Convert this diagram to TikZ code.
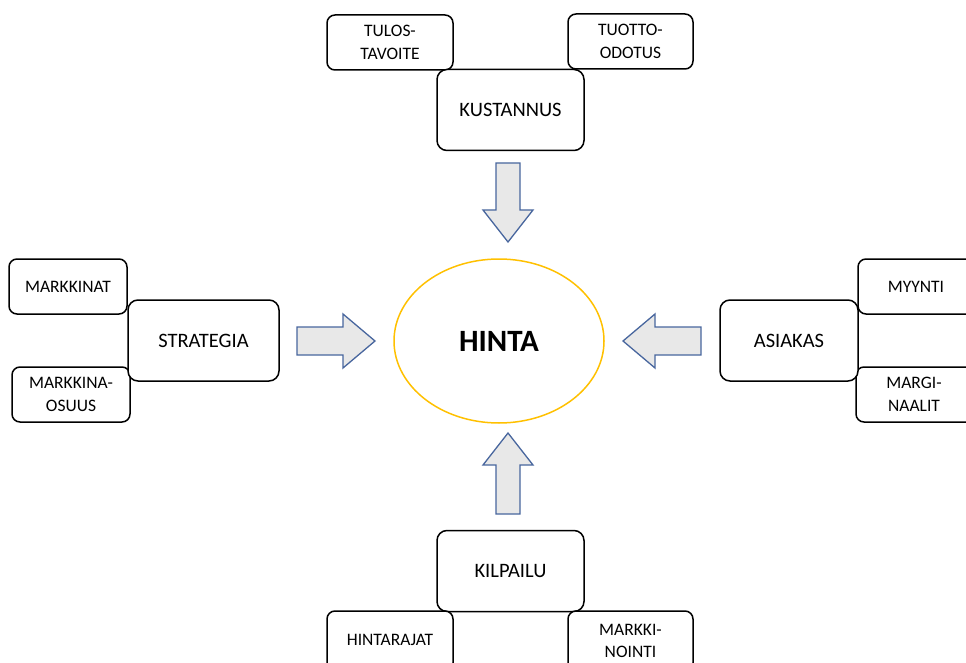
\documentclass[tikz,border=0pt]{standalone}
\usepackage{fontspec}
\setmainfont{Carlito}
\usetikzlibrary{shapes.geometric}
\definecolor{arrowfill}{RGB}{232,232,232}
\definecolor{arrowline}{RGB}{72,102,158}
\definecolor{ringgold}{RGB}{255,192,0}
\begin{document}
\begin{tikzpicture}[x=1pt,y=-1pt,
  mainbox/.style={draw, fill=white, rounded corners=10pt, line width=1.5pt,
    minimum width=147pt, minimum height=81pt, inner sep=0pt, align=center,
    font=\fontsize{20.5}{24}\selectfont},
  sidebox/.style={draw, fill=white, rounded corners=8pt, line width=1.5pt,
    minimum width=126pt, minimum height=55pt, inner sep=0pt, align=center,
    font=\fontsize{17.5}{22.5}\selectfont},
  sidetext/.style={align=center, inner sep=0pt, font=\fontsize{17.5}{22.5}\selectfont},
  blockarrow/.style={draw=arrowline, fill=arrowfill, line width=1.3pt, line join=miter}]
\useasboundingbox (0,0) rectangle (966,663);
\clip (0,0) rectangle (966,663);

% centre
\node[draw=ringgold, line width=1.5pt, ellipse, minimum width=210pt, minimum height=164pt,
  inner sep=0pt, font=\fontsize{31}{36}\selectfont\bfseries] (hinta) at (499,341) {HINTA};

% top group
\node[sidebox] (tulos) at (390,42.5) {TULOS-\\TAVOITE};
\node[sidebox, minimum width=125pt] (tuotto) at (630.5,41.5) {TUOTTO-\\ODOTUS};
\node[mainbox] (kust) at (510.5,110) {KUSTANNUS};

% left group
\node[sidebox, minimum width=118pt] (markkinat) at (68,286.5) {MARKKINAT};
\node[sidebox, minimum width=118pt] (osuus) at (71,394.5) {MARKKINA-\\OSUUS};
\node[mainbox, minimum width=151pt] (strat) at (203.5,340.5) {STRATEGIA};

% right group (boxes run past the right edge)
\node[sidebox] (myynti) at (921,286.5) {};
\node[sidetext] (myyntit) at (916,286.5) {MYYNTI};
\node[sidebox] (marg) at (919,394.5) {};
\node[sidetext] (margt) at (914,394.5) {MARGI-\\NAALIT};
\node[mainbox, minimum width=138pt] (asiakas) at (789,340.5) {ASIAKAS};

% bottom group (boxes run past the lower edge)
\node[mainbox] (kilp) at (510.5,571) {KILPAILU};
\node[sidebox, minimum height=60pt] (hraja) at (390,641) {};
\node[sidetext] (hrajat) at (390,640) {HINTARAJAT};
\node[sidebox, minimum width=125pt, minimum height=60pt] (mark) at (630.5,641) {};
\node[sidetext] (markt) at (630.5,641) {MARKKI-\\NOINTI};

% block arrows pointing at the centre
\draw[blockarrow] (496,163) -- (520,163) -- (520,210) -- (533,210) -- (508,242)
  -- (483,210) -- (496,210) -- cycle;
\draw[blockarrow] (496,514) -- (520,514) -- (520,465) -- (533,465) -- (508,433)
  -- (483,465) -- (496,465) -- cycle;
\draw[blockarrow] (297,327) -- (343,327) -- (343,314) -- (375,341) -- (343,368)
  -- (343,355) -- (297,355) -- cycle;
\draw[blockarrow] (701,327) -- (655,327) -- (655,314) -- (623,341) -- (655,368)
  -- (655,355) -- (701,355) -- cycle;
\end{tikzpicture}
\end{document}
